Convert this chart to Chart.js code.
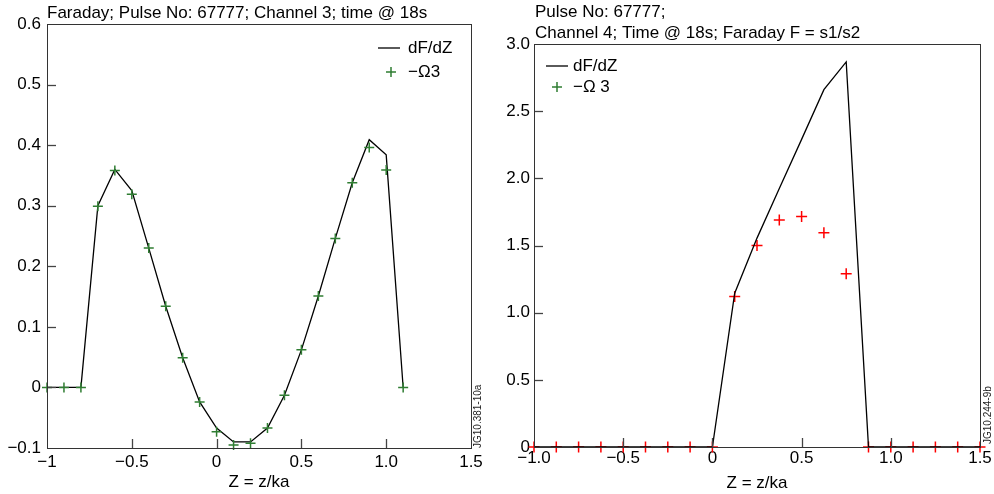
<!DOCTYPE html>
<html>
<head>
<meta charset="utf-8">
<script src="https://cdn.jsdelivr.net/npm/chart.js@4.4.1/dist/chart.umd.min.js"></script>
<style>
  body { margin: 0; background: #fff; }
  #wrap { position: relative; width: 994px; height: 494px; }
  canvas { position: absolute; top: 0; }
  #left { left: 0; }
  #right { left: 497px; }
</style>
</head>
<body>
<div id="wrap">
  <canvas id="left" width="497" height="494"></canvas>
  <canvas id="right" width="497" height="494"></canvas>
</div>
<script>
// left panel : channel 3
var zLeft = [-1.0, -0.9, -0.8, -0.7, -0.6, -0.5, -0.4, -0.3, -0.2, -0.1, 0.0,
             0.1, 0.2, 0.3, 0.4, 0.5, 0.6, 0.7, 0.8, 0.9, 1.0, 1.1];
var dFdZLeft = [0, 0, 0, 0.300, 0.360, 0.325, 0.230, 0.134, 0.049, -0.024, -0.067,
                -0.090, -0.090, -0.067, -0.013, 0.062, 0.151, 0.246, 0.338, 0.409, 0.384, 0];
var omegaLeft = [0, 0, 0, 0.299, 0.358, 0.319, 0.230, 0.134, 0.049, -0.024, -0.073,
                 -0.095, -0.092, -0.067, -0.013, 0.062, 0.151, 0.246, 0.338, 0.396, 0.359, 0];
var xTicksLeft = ["\u22121", "\u22120.5", "0", "0.5", "1.0", "1.5"];
var yTicksLeft = ["\u22120.1", "0", "0.1", "0.2", "0.3", "0.4", "0.5", "0.6"];

// right panel : channel 4
var zRight = [-1.0, -0.875, -0.75, -0.625, -0.5, -0.375, -0.25, -0.125, 0.0,
              0.125, 0.25, 0.375, 0.5, 0.625, 0.75, 0.875, 1.0, 1.125, 1.25, 1.375, 1.5];
var dFdZRight = [0, 0, 0, 0, 0, 0, 0, 0, 0,
                 1.145, 1.555, 1.925, 2.29, 2.66, 2.867, 0, 0, 0, 0, 0, 0];
var omegaRight = [0, 0, 0, 0, 0, 0, 0, 0, 0,
                  1.12, 1.50, 1.69, 1.715, 1.595, 1.29, 0, 0, 0, 0, 0, 0];
var xTicksRight = ["\u22121.0", "\u22120.5", "0", "0.5", "1.0", "1.5"];
var yTicksRight = ["0", "0.5", "1.0", "1.5", "2.0", "2.5", "3.0"];

var FONT = "'Liberation Sans', Arial, Helvetica, sans-serif";
var FS = 17;
var GREEN = "#2f7d32";

function pts(xs, ys) {
  return xs.map(function(x, i) { return {x: x, y: ys[i]}; });
}

// frame, inward ticks, titles, legend, figure code
var decorPlugin = {
  id: "decor",
  afterDraw: function(chart, args, o) {
    var ctx = chart.ctx, a = chart.chartArea;
    var sx = chart.scales.x, sy = chart.scales.y;
    ctx.save();
    ctx.strokeStyle = "#444";
    ctx.lineWidth = 1.3;
    sx.ticks.forEach(function(t, i) {
      if (i == 0 || i == sx.ticks.length - 1) return;
      var px = Math.round(sx.getPixelForValue(t.value)) + 0.5;
      ctx.beginPath(); ctx.moveTo(px, a.bottom); ctx.lineTo(px, a.bottom - 9); ctx.stroke();
    });
    sy.ticks.forEach(function(t, i) {
      if (i == 0 || i == sy.ticks.length - 1) return;
      var py = Math.round(sy.getPixelForValue(t.value)) + 0.5;
      ctx.beginPath(); ctx.moveTo(a.left, py); ctx.lineTo(a.left + 9, py); ctx.stroke();
    });
    ctx.strokeStyle = "#333";
    ctx.lineWidth = 1;
    ctx.strokeRect(Math.round(a.left) + 0.5, Math.round(a.top) + 0.5,
                   Math.round(a.right - a.left), Math.round(a.bottom - a.top));

    ctx.fillStyle = "#000";
    ctx.font = FS + "px " + FONT;
    ctx.textBaseline = "middle";
    ctx.textAlign = "left";
    o.title.forEach(function(line, i) {
      ctx.fillText(line, a.left + o.titleDx, o.titleY[i]);
    });

    // legend
    var L = o.legend;
    var ds = chart.data.datasets;
    ctx.strokeStyle = "#000";
    ctx.lineWidth = 1.3;
    ctx.beginPath(); ctx.moveTo(L.x0, L.y); ctx.lineTo(L.x1, L.y); ctx.stroke();
    ctx.fillText(ds[1].label, L.tx, L.y);
    ctx.strokeStyle = GREEN;
    ctx.lineWidth = 1.5;
    ctx.beginPath();
    ctx.moveTo(L.cx - 5, L.y + L.dy); ctx.lineTo(L.cx + 5, L.y + L.dy);
    ctx.moveTo(L.cx, L.y + L.dy - 5); ctx.lineTo(L.cx, L.y + L.dy + 5);
    ctx.stroke();
    ctx.fillText(ds[0].label, L.tx, L.y + L.dy);

    // figure code
    ctx.translate(o.codeX, o.codeY);
    ctx.rotate(-Math.PI / 2);
    ctx.font = "10px " + FONT;
    ctx.fillStyle = "#222";
    ctx.fillText(o.code, 0, 0);
    ctx.restore();
  }
};

function makeChart(id, cfg) {
  return new Chart(document.getElementById(id), {
    type: "scatter",
    data: {
      datasets: [
        {
          label: cfg.omegaLabel,
          data: pts(cfg.z, cfg.omega),
          showLine: false,
          pointStyle: "cross",
          pointRadius: cfg.crossR,
          pointBorderWidth: 1.5,
          pointBorderColor: cfg.crossColor,
          pointBackgroundColor: cfg.crossColor,
          clip: false,
          order: 0
        },
        {
          label: "dF/dZ",
          data: pts(cfg.z, cfg.dFdZ),
          showLine: true,
          borderColor: "#000",
          borderWidth: 1.3,
          pointRadius: 0,
          tension: 0,
          clip: false,
          order: cfg.lineOrder
        }
      ]
    },
    options: {
      responsive: false,
      animation: false,
      events: [],
      layout: { padding: { left: 0, top: cfg.padTop, right: cfg.padRight, bottom: 0 } },
      plugins: {
        legend: { display: false },
        tooltip: { enabled: false },
        decor: cfg.decor
      },
      scales: {
        x: {
          type: "linear",
          min: -1, max: 1.5,
          afterFit: function(s) { s.height = cfg.xHeight; },
          grid: { display: false, drawTicks: false },
          border: { display: false },
          ticks: {
            stepSize: 0.5,
            padding: cfg.xPad,
            maxRotation: 0,
            color: "#000",
            font: { family: FONT, size: FS },
            callback: function(v, i) { return cfg.xLabels[i]; }
          },
          title: {
            display: true,
            text: "Z = z/ka",
            color: "#000",
            font: { family: FONT, size: FS },
            padding: { top: 0, bottom: cfg.titlePad }
          }
        },
        y: {
          type: "linear",
          min: cfg.yMin, max: cfg.yMax,
          afterFit: function(s) { s.width = cfg.yWidth; },
          grid: { display: false, drawTicks: false },
          border: { display: false },
          ticks: {
            stepSize: cfg.yStep,
            padding: cfg.yPad,
            color: "#000",
            font: { family: FONT, size: FS },
            callback: function(v, i) { return cfg.yLabels[i]; }
          }
        }
      }
    },
    plugins: [decorPlugin]
  });
}

makeChart("left", {
  z: zLeft, dFdZ: dFdZLeft, omega: omegaLeft,
  omegaLabel: "\u2212\u03a93",
  crossColor: GREEN, crossR: 5, lineOrder: 1,
  xLabels: xTicksLeft, yLabels: yTicksLeft,
  yMin: -0.1, yMax: 0.6, yStep: 0.1,
  padTop: 24, padRight: 26, xHeight: 46, yWidth: 47,
  xPad: 4, yPad: 6, titlePad: 1,
  decor: {
    title: ["Faraday; Pulse No: 67777; Channel 3; time @ 18s"],
    titleDx: 0, titleY: [13],
    legend: { x0: 378, x1: 400, tx: 408, y: 48, dy: 24, cx: 391 },
    code: "JG10.381-10a", codeX: 478, codeY: 448
  }
});

makeChart("right", {
  z: zRight, dFdZ: dFdZRight, omega: omegaRight,
  omegaLabel: "\u2212\u03a9 3",
  crossColor: "#ff0000", crossR: 5.5, lineOrder: -1,
  xLabels: xTicksRight, yLabels: yTicksRight,
  yMin: 0, yMax: 3.0, yStep: 0.5,
  padTop: 44, padRight: 14, xHeight: 47, yWidth: 37,
  xPad: 1, yPad: 4, titlePad: 0,
  decor: {
    title: ["Pulse No: 67777;", "Channel 4; Time @ 18s; Faraday F = s1/s2"],
    titleDx: 1, titleY: [12, 33],
    legend: { x0: 49, x1: 71, tx: 76, y: 66, dy: 21, cx: 60 },
    code: "JG10.244-9b", codeX: 491, codeY: 444
  }
});
</script>
</body>
</html>
